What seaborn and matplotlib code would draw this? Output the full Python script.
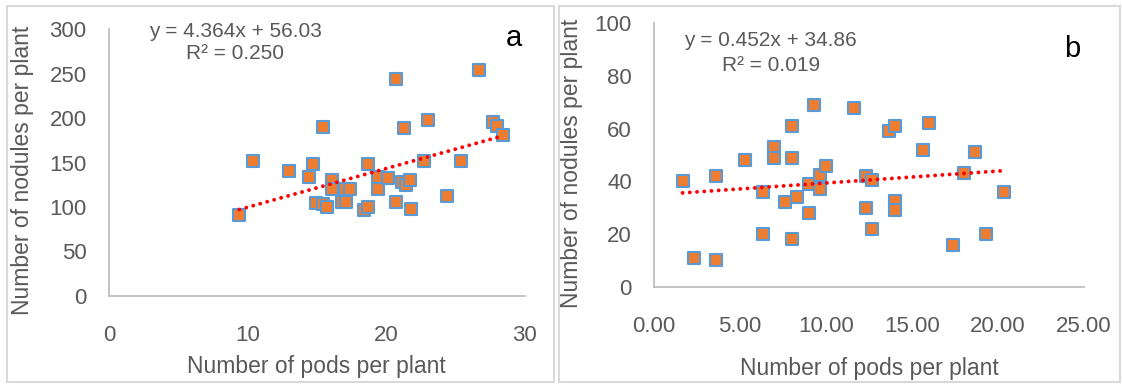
import matplotlib
matplotlib.use("Agg")
import matplotlib.pyplot as plt
import matplotlib.patches as patches
import seaborn as sns
import numpy as np
import pandas as pd

# panel a
pods_a = [9.4, 10.4, 13.0, 14.4, 14.7, 15.4, 14.9, 15.4, 15.7, 16.1, 16.1, 16.8,
          17.1, 17.0, 17.4, 18.4, 18.7, 18.7, 19.4, 19.4, 20.1, 20.7, 20.7, 21.1,
          21.4, 21.7, 21.3, 21.8, 22.7, 23.0, 24.4, 25.4, 26.7, 27.7, 28.0, 28.4]
nod_a = [91, 152, 141, 134, 148, 190, 104, 103, 99.5, 130, 120, 105.5,
         106, 120.5, 120.5, 96, 99.5, 148, 134, 120.5, 132, 244, 106, 128,
         125, 130, 188.5, 98, 152, 198, 112, 152, 254.6, 196, 191, 181]
slope_a, icept_a = 4.364, 56.03

# panel b
pods_b = [1.66, 2.33, 3.63, 3.63, 5.3, 6.33, 6.33, 7.0, 7.0, 7.64, 8.0, 8.0,
          8.0, 8.33, 9.0, 9.0, 9.32, 9.66, 9.66, 10.0, 11.65, 12.33, 12.69, 12.33,
          12.69, 13.64, 14.0, 14.0, 14.0, 15.66, 16.0, 17.36, 18.0, 18.67, 19.33, 20.33]
nod_b = [40, 11, 42, 10, 48, 36, 20, 53, 49, 32, 61, 49,
         18, 34, 39, 28, 69, 42.5, 37, 46, 68, 42, 40.5, 30,
         22, 59, 61, 32.5, 29, 52, 62, 16, 43, 51, 20, 36]
slope_b, icept_b = 0.452, 34.86

sns.set_style("white")
plt.rcParams['font.family'] = ['Liberation Sans', 'DejaVu Sans']
grey = "#595959"

fig = plt.figure(figsize=(11.22, 3.84), dpi=100)
ax_a = fig.add_axes([0.0971, 0.2299, 0.3708, 0.6938])
ax_b = fig.add_axes([0.5829, 0.2534, 0.3832, 0.6859])

# panel borders
fig.patches.append(patches.Rectangle((0.0062, 0.005), 0.488, 0.979, transform=fig.transFigure,
                                     fill=False, edgecolor="#D9D9D9", linewidth=1.5))
fig.patches.append(patches.Rectangle((0.4985, 0.005), 0.4995, 0.979, transform=fig.transFigure,
                                     fill=False, edgecolor="#D9D9D9", linewidth=1.5))

panels = [
    (ax_a, pods_a, nod_a, slope_a, icept_a, (0, 30), (0, 300), [0, 10, 20, 30], range(0, 301, 50), "{:.0f}"),
    (ax_b, pods_b, nod_b, slope_b, icept_b, (0, 25), (0, 100), [0, 5, 10, 15, 20, 25], range(0, 101, 20), "{:.2f}"),
]

for ax, xs, ys, m, c, xl, yl, xt, yt, fmt in panels:
    df = pd.DataFrame({"pods": xs, "nodules": ys})
    xfit = np.array([df.pods.min(), df.pods.max()])
    ax.plot(xfit, m * xfit + c, color="red", linewidth=2.8, linestyle=(0, (0.01, 1.85)),
            dash_capstyle="round", zorder=3)
    sns.scatterplot(data=df, x="pods", y="nodules", marker="s", s=82, color="#ED7D31",
                    edgecolor="#5B9BD5", linewidth=1.5, ax=ax, zorder=2)
    ax.set_xlim(*xl)
    ax.set_ylim(*yl)
    ax.set_xticks(xt)
    ax.set_xticklabels([fmt.format(v) for v in xt])
    ax.set_yticks(list(yt))
    for s in ["top", "right"]:
        ax.spines[s].set_visible(False)
    for s in ["left", "bottom"]:
        ax.spines[s].set_color("#BFBFBF")
        ax.spines[s].set_linewidth(1.3)
    ax.set_xlabel("Number of pods per plant", fontsize=16.5, color=grey)
    ax.set_ylabel("Number of nodules per plant", fontsize=16.5, color=grey)
    ax.tick_params(axis="both", length=0, labelsize=16, labelcolor=grey)
    ax.tick_params(axis="x", pad=21)
    ax.tick_params(axis="y", pad=16)
    ax.set_facecolor("white")

ax_a.text(0.304, 0.99, "y = 4.364x + 56.03", transform=ax_a.transAxes, ha="center", va="center",
          fontsize=15, color=grey)
ax_a.text(0.304, 0.911, "R² = 0.250", transform=ax_a.transAxes, ha="center", va="center",
          fontsize=15, color=grey)
ax_a.text(0.974, 0.967, "a", transform=ax_a.transAxes, ha="center", va="center", fontsize=21, color="black")
ax_a.xaxis.set_label_coords(0.499, -0.223)
ax_a.yaxis.set_label_coords(-0.180, 0.472)

ax_b.text(0.271, 0.933, "y = 0.452x + 34.86", transform=ax_b.transAxes, ha="center", va="center",
          fontsize=15, color=grey)
ax_b.text(0.272, 0.841, "R² = 0.019", transform=ax_b.transAxes, ha="center", va="center",
          fontsize=15, color=grey)
ax_b.text(0.972, 0.902, "b", transform=ax_b.transAxes, ha="center", va="center", fontsize=21, color="black")
ax_b.xaxis.set_label_coords(0.5, -0.267)
ax_b.yaxis.set_label_coords(-0.165, 0.47)

fig.savefig("out.png", dpi=100, facecolor="white")
